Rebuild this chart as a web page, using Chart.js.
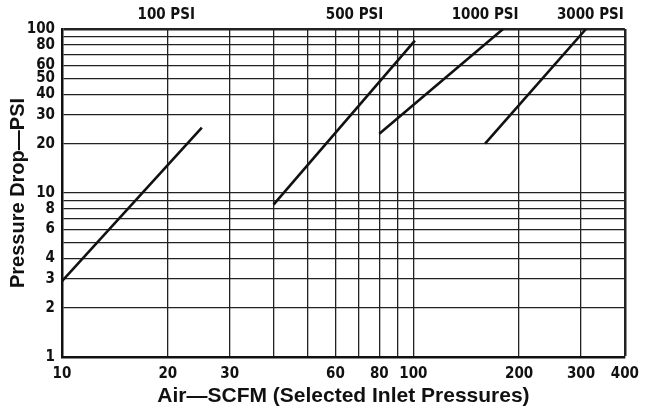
<!DOCTYPE html>
<html>
<head>
<meta charset="utf-8">
<script src="https://cdn.jsdelivr.net/npm/chart.js@4/dist/chart.umd.min.js"></script>
<style>
  html, body { margin: 0; padding: 0; background: #fff; }
  #wrap { width: 647px; height: 412px; }
</style>
</head>
<body>
<div id="wrap"><canvas id="pdChart"></canvas></div>
<script>
// ── Axis ticks ─────────────────────────────────────
const xTicks    = [10, 20, 30, 40, 50, 60, 70, 80, 90, 100, 200, 300, 400];
const xLabeled  = [10, 20, 30, 60, 80, 100, 200, 300, 400];
const yTicks    = [1, 2, 3, 4, 5, 6, 7, 8, 9, 10, 20, 30, 40, 50, 60, 70, 80, 90, 100];
const yLabeled  = [1, 2, 3, 4, 6, 8, 10, 20, 30, 40, 50, 60, 80, 100];

// ── Series (SCFM vs pressure drop, endpoints) ──────
const seriesNames = ['100 PSI', '500 PSI', '1000 PSI', '3000 PSI'];
const scfm100  = [10, 25];   const drop100  = [2.9, 25];
const scfm500  = [40, 101];  const drop500  = [8.5, 85];
const scfm1000 = [80, 180];  const drop1000 = [23, 100];
const scfm3000 = [160, 310]; const drop3000 = [20, 100];
// x value above which each pressure label sits
const labelAt  = [19.8, 68, 160, 319];

const NARROW = "'Liberation Sans Narrow', 'Arial Narrow', 'DejaVu Sans Condensed', sans-serif";
const WIDE   = "'Liberation Sans', Arial, sans-serif";

const pts = (xs, ys) => xs.map((x, i) => ({ x, y: ys[i] }));
const seriesData = [
  pts(scfm100, drop100),
  pts(scfm500, drop500),
  pts(scfm1000, drop1000),
  pts(scfm3000, drop3000),
];

const topLabels = {
  id: 'topLabels',
  afterDraw(chart) {
    const { ctx, chartArea, scales } = chart;
    ctx.save();
    ctx.font = `bold 15px ${NARROW}`;
    ctx.fillStyle = '#111';
    ctx.textAlign = 'center';
    ctx.textBaseline = 'middle';
    seriesNames.forEach((name, i) => {
      ctx.fillText(name, scales.x.getPixelForValue(labelAt[i]), chartArea.top - 14);
    });
    ctx.restore();
  }
};

const gridWidth = (edge) => (c) => (c.tick && c.tick.value === edge ? 2.5 : 1.3);

new Chart(document.getElementById('pdChart'), {
  type: 'line',
  data: {
    datasets: seriesData.map((d, i) => ({
      label: seriesNames[i],
      data: d,
      borderColor: '#111',
      borderWidth: 2.6,
      pointRadius: 0,
      fill: false,
    }))
  },
  options: {
    responsive: true,
    maintainAspectRatio: false,
    animation: false,
    layout: { padding: { top: 29, right: 13, left: 0, bottom: 0 } },
    scales: {
      x: {
        type: 'logarithmic',
        min: 10, max: 400,
        afterBuildTicks: s => { s.ticks = xTicks.map(v => ({ value: v })); },
        afterFit: s => { s.height = 55; },
        ticks: {
          autoSkip: false,
          maxRotation: 0,
          padding: 8,
          color: '#111',
          font: { family: NARROW, size: 15, weight: 'bold' },
          callback: v => xLabeled.includes(v) ? String(v) : '',
        },
        grid: { color: '#222', lineWidth: gridWidth(400), drawTicks: false },
        border: { color: '#111', width: 2.5 },
        title: {
          display: true,
          text: 'Air\u2014SCFM (Selected Inlet Pressures)',
          color: '#111',
          font: { family: WIDE, size: 21, weight: 'bold' },
          padding: { top: 0, bottom: 3 },
        }
      },
      y: {
        type: 'logarithmic',
        min: 1, max: 100,
        afterBuildTicks: s => { s.ticks = yTicks.map(v => ({ value: v })); },
        afterFit: s => { s.width = 62; },
        ticks: {
          autoSkip: false,
          padding: 7,
          color: '#111',
          font: { family: NARROW, size: 15, weight: 'bold' },
          callback: v => yLabeled.includes(v) ? String(v) : '',
        },
        grid: { color: '#222', lineWidth: gridWidth(100), drawTicks: false },
        border: { color: '#111', width: 2.5 },
        title: {
          display: true,
          text: 'Pressure Drop\u2014PSI',
          color: '#111',
          font: { family: WIDE, size: 20, weight: 'bold' },
          padding: { top: 6, bottom: 0 },
        }
      }
    },
    plugins: {
      legend: { display: false },
      tooltip: { enabled: false },
    }
  },
  plugins: [topLabels]
});
</script>
</body>
</html>
